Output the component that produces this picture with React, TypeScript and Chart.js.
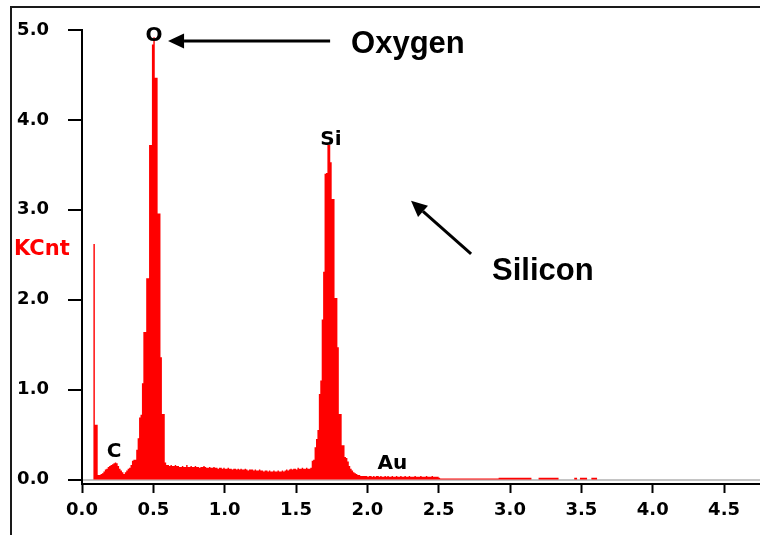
import { useEffect, useRef } from 'react';
import { Chart, registerables } from 'chart.js';

Chart.register(...registerables);

// ---- DATA ----
// EDX spectrum: counts (KCnt) per 0.01 keV channel, first channel at 0.00 keV
const CHANNEL_START_KEV = 0.0;
const CHANNEL_WIDTH_KEV = 0.01;
const counts: number[] = [
  0, 0, 0, 0, 0, 0, 0, 0, 0, 2.62,
  0.61, 0.61, 0.05, 0.05, 0.06, 0.07, 0.09, 0.11, 0.12, 0.14,
  0.15, 0.16, 0.17, 0.18, 0.19, 0.18, 0.15, 0.12, 0.10, 0.08,
  0.06, 0.08, 0.10, 0.12, 0.13, 0.16, 0.21, 0.22, 0.22, 0.33,
  0.46, 0.69, 0.72, 1.07, 1.64, 1.64, 2.24, 2.24, 3.72, 3.72,
  4.84, 4.92, 4.47, 4.47, 2.96, 2.96, 1.36, 0.73, 0.73, 0.19,
  0.16, 0.16, 0.15, 0.16, 0.15, 0.15, 0.16, 0.15, 0.15, 0.14,
  0.14, 0.15, 0.14, 0.14, 0.16, 0.14, 0.14, 0.15, 0.14, 0.14,
  0.15, 0.14, 0.14, 0.13, 0.14, 0.14, 0.15, 0.14, 0.13, 0.13,
  0.14, 0.13, 0.13, 0.14, 0.13, 0.13, 0.12, 0.13, 0.13, 0.12,
  0.13, 0.12, 0.12, 0.13, 0.12, 0.12, 0.11, 0.12, 0.12, 0.11,
  0.12, 0.11, 0.12, 0.11, 0.11, 0.12, 0.11, 0.10, 0.11, 0.11,
  0.11, 0.10, 0.11, 0.10, 0.10, 0.11, 0.10, 0.10, 0.09, 0.10,
  0.10, 0.09, 0.10, 0.09, 0.09, 0.10, 0.09, 0.09, 0.10, 0.09,
  0.09, 0.10, 0.09, 0.10, 0.11, 0.10, 0.11, 0.12, 0.11, 0.12,
  0.12, 0.11, 0.13, 0.12, 0.12, 0.13, 0.12, 0.12, 0.13, 0.12,
  0.12, 0.13, 0.21, 0.22, 0.36, 0.45, 0.55, 0.95, 1.10, 1.78,
  2.31, 3.40, 3.41, 3.72, 3.72, 3.53, 3.12, 3.12, 2.02, 2.02,
  1.47, 0.73, 0.73, 0.38, 0.38, 0.25, 0.24, 0.20, 0.15, 0.12,
  0.10, 0.08, 0.07, 0.06, 0.05, 0.05, 0.04, 0.04, 0.04, 0.04,
  0.04, 0.03, 0.04, 0.04, 0.03, 0.04, 0.03, 0.04, 0.04, 0.03,
  0.04, 0.03, 0.03, 0.04, 0.03, 0.04, 0.03, 0.03, 0.04, 0.03,
  0.03, 0.04, 0.03, 0.03, 0.04, 0.03, 0.03, 0.04, 0.03, 0.03,
  0.04, 0.03, 0.03, 0.03, 0.04, 0.03, 0.03, 0.03, 0.04, 0.03,
  0.03, 0.03, 0.04, 0.03, 0.03, 0.03, 0.04, 0.03, 0.03, 0.03,
  0.03, 0.02, 0.01, 0.01, 0.01, 0.01, 0.01, 0.01, 0.01, 0.01,
  0.01, 0.01, 0.01, 0.01, 0.01, 0.01, 0.01, 0.01, 0.01, 0.01,
  0.01, 0.01, 0.01, 0.01, 0.01, 0.01, 0.01, 0.01, 0.01, 0.01,
  0.01, 0.01, 0.01, 0.01, 0.01, 0.01, 0.01, 0.01, 0.01, 0.01,
  0.01, 0.01, 0.01, 0.02, 0.02, 0.02, 0.02, 0.02, 0.02, 0.02,
  0.02, 0.02, 0.02, 0.02, 0.02, 0.02, 0.02, 0.02, 0.02, 0.02,
  0.02, 0.02, 0.02, 0.02, 0.02, 0.02, 0, 0, 0, 0,
  0, 0.02, 0.02, 0.02, 0.02, 0.02, 0.02, 0.02, 0.02, 0.02,
  0.02, 0.02, 0.02, 0.02, 0.02, 0, 0, 0, 0, 0,
  0, 0, 0, 0, 0, 0, 0.02, 0.02, 0, 0,
  0.02, 0.02, 0.02, 0.02, 0.02, 0, 0, 0, 0.02, 0.02,
  0.02, 0.02, 0,
];

const xTicks = [0, 0.5, 1.0, 1.5, 2.0, 2.5, 3.0, 3.5, 4.0, 4.5];
const yTicks = [0, 1, 2, 3, 4, 5];
const X_MIN = 0;
const X_MAX = 4.752;
const Y_MIN = -0.05;
const Y_MAX = 5.0;

const yUnitLabel = 'KCnt';
const yUnitLabelKCnt = 2.56;

// element peak labels
const peakLabels = ['O', 'Si', 'C', 'Au'];
const peakLabelKeV = [0.505, 1.745, 0.225, 2.175];
const peakLabelKCnt = [4.93, 3.78, 0.31, 0.17];

// call-outs with arrows
const calloutTexts = ['Oxygen', 'Silicon'];
const calloutTextKeV = [1.886, 2.874];
const calloutTextKCnt = [4.74, 2.22];
const arrowFromKeV = [1.739, 2.727];
const arrowFromKCnt = [4.878, 2.51];
const arrowToKeV = [0.603, 2.306];
const arrowToKCnt = [4.878, 3.10];

const SPECTRUM_RED = '#ff0000';

function drawArrow(ctx: CanvasRenderingContext2D, x1: number, y1: number, x2: number, y2: number) {
  const ang = Math.atan2(y2 - y1, x2 - x1);
  const headLen = 16;
  const headHalf = 7.5;
  const bx = x2 - headLen * Math.cos(ang);
  const by = y2 - headLen * Math.sin(ang);
  ctx.beginPath();
  ctx.moveTo(x1, y1);
  ctx.lineTo(bx, by);
  ctx.stroke();
  ctx.beginPath();
  ctx.moveTo(x2, y2);
  ctx.lineTo(bx + headHalf * Math.sin(ang), by - headHalf * Math.cos(ang));
  ctx.lineTo(bx - headHalf * Math.sin(ang), by + headHalf * Math.cos(ang));
  ctx.closePath();
  ctx.fill();
}

const decorPlugin = {
  id: 'decor',
  beforeDraw(chart: any) {
    const ctx = chart.ctx as CanvasRenderingContext2D;
    ctx.save();
    ctx.fillStyle = '#ffffff';
    ctx.fillRect(0, 0, chart.width, chart.height);
    ctx.strokeStyle = '#1a1a1a';
    ctx.lineWidth = 2;
    ctx.strokeRect(11, 7, chart.width + 40, chart.height + 40);
    ctx.restore();
  },
  afterDraw(chart: any) {
    const ctx = chart.ctx as CanvasRenderingContext2D;
    const xs = chart.scales.x;
    const ys = chart.scales.y;
    ctx.save();
    // unit label
    ctx.fillStyle = SPECTRUM_RED;
    ctx.font = 'bold 21px "DejaVu Sans"';
    ctx.textAlign = 'left';
    ctx.textBaseline = 'middle';
    ctx.fillText(yUnitLabel, chart.chartArea.left - 68, ys.getPixelForValue(yUnitLabelKCnt));
    // element labels
    ctx.fillStyle = '#000000';
    ctx.font = 'bold 20px "DejaVu Sans"';
    ctx.textAlign = 'center';
    peakLabels.forEach((t, i) => {
      ctx.fillText(t, xs.getPixelForValue(peakLabelKeV[i]), ys.getPixelForValue(peakLabelKCnt[i]));
    });
    // callouts
    ctx.font = 'bold 31px "Liberation Sans"';
    ctx.textAlign = 'left';
    ctx.textBaseline = 'alphabetic';
    calloutTexts.forEach((t, i) => {
      ctx.fillText(t, xs.getPixelForValue(calloutTextKeV[i]), ys.getPixelForValue(calloutTextKCnt[i]));
    });
    ctx.strokeStyle = '#000000';
    ctx.fillStyle = '#000000';
    ctx.lineWidth = 3;
    calloutTexts.forEach((_, i) => {
      drawArrow(
        ctx,
        xs.getPixelForValue(arrowFromKeV[i]),
        ys.getPixelForValue(arrowFromKCnt[i]),
        xs.getPixelForValue(arrowToKeV[i]),
        ys.getPixelForValue(arrowToKCnt[i])
      );
    });
    ctx.restore();
  },
};

export default function App() {
  const canvasRef = useRef<HTMLCanvasElement | null>(null);

  useEffect(() => {
    if (!canvasRef.current) return;
    const points = counts.map((c, i) => ({ x: CHANNEL_START_KEV + i * CHANNEL_WIDTH_KEV, y: c }));
    const chart = new Chart(canvasRef.current, {
      type: 'line',
      data: {
        datasets: [
          {
            data: points,
            stepped: 'after',
            fill: 'origin',
            backgroundColor: SPECTRUM_RED,
            borderColor: 'rgba(0,0,0,0)',
            borderWidth: 0,
            pointRadius: 0,
            tension: 0,
          },
        ],
      },
      options: {
        animation: false,
        responsive: false,
        devicePixelRatio: 1,
        layout: { padding: { top: 30, left: 0, right: 0, bottom: 0 } },
        plugins: { legend: { display: false }, tooltip: { enabled: false } },
        scales: {
          x: {
            type: 'linear',
            min: X_MIN,
            max: X_MAX,
            afterBuildTicks: (axis: any) => {
              axis.ticks = xTicks.map((v) => ({ value: v }));
            },
            afterFit: (scale: any) => {
              scale.height = 51;
            },
            ticks: {
              autoSkip: false,
              maxRotation: 0,
              padding: 7,
              color: '#000',
              font: { family: '"DejaVu Sans"', size: 18, weight: 'bold' },
              callback: (v: any) => Number(v).toFixed(1),
            },
            grid: {
              drawOnChartArea: false,
              tickLength: 9,
              tickWidth: 2,
              tickColor: '#000',
            },
            border: { display: true, color: '#000', width: 2 },
          },
          y: {
            type: 'linear',
            min: Y_MIN,
            max: Y_MAX,
            afterBuildTicks: (axis: any) => {
              axis.ticks = yTicks.map((v) => ({ value: v }));
            },
            afterFit: (scale: any) => {
              scale.width = 82;
            },
            ticks: {
              padding: 19,
              color: '#000',
              font: { family: '"DejaVu Sans"', size: 18, weight: 'bold' },
              callback: (v: any) => Number(v).toFixed(1),
            },
            grid: {
              drawOnChartArea: true,
              color: (ctx: any) => (ctx.tick && ctx.tick.value === 0 ? '#c4c4c4' : 'rgba(0,0,0,0)'),
              lineWidth: 2,
              tickLength: 14,
              tickWidth: 2,
              tickColor: '#000',
            },
            border: { display: true, color: '#000', width: 2 },
          },
        },
      },
      plugins: [decorPlugin],
    } as any);
    return () => chart.destroy();
  }, []);

  return (
    <div style={{ position: 'fixed', left: 0, top: 0, width: 760, height: 535, background: '#fff' }}>
      <canvas ref={canvasRef} width={760} height={535} style={{ display: 'block' }} />
    </div>
  );
}
